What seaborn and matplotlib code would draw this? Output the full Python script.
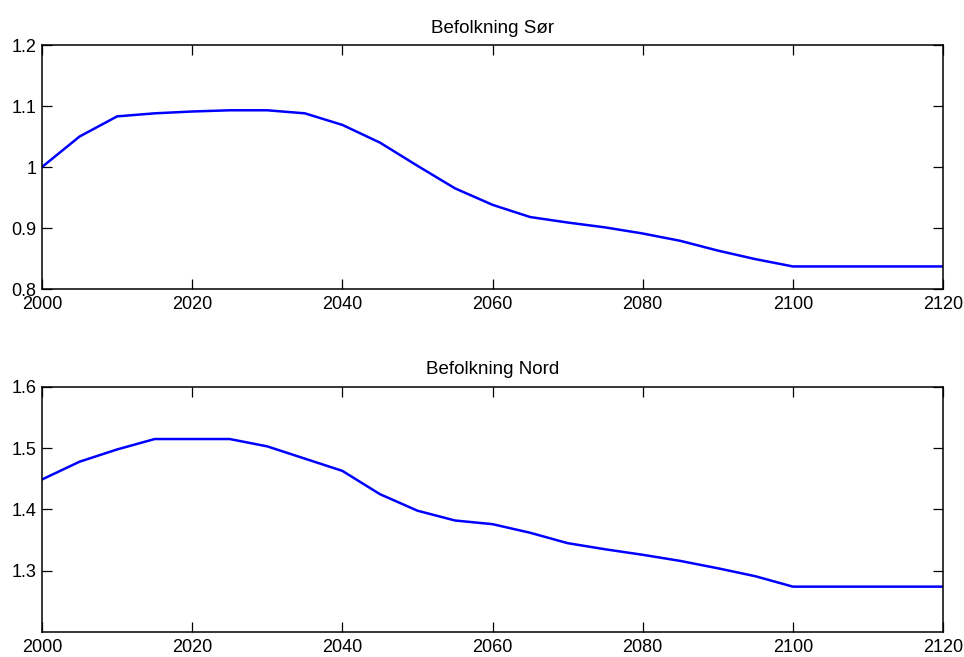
import numpy as np
import pandas as pd
import matplotlib
matplotlib.use("Agg")
import matplotlib.pyplot as plt
import seaborn as sns

sns.set_style("ticks")
plt.rcParams['font.family'] = ['Liberation Sans', 'DejaVu Sans']

## data
years = [2000, 2005, 2010, 2015, 2020, 2025, 2030, 2035, 2040, 2045, 2050, 2055, 2060,
         2065, 2070, 2075, 2080, 2085, 2090, 2095, 2100, 2105, 2110, 2115, 2120]
sor = [1.000, 1.050, 1.083, 1.088, 1.091, 1.093, 1.093, 1.088, 1.069, 1.040, 1.002, 0.965, 0.938,
       0.918, 0.909, 0.901, 0.891, 0.879, 0.863, 0.849, 0.837, 0.837, 0.837, 0.837, 0.837]
nord = [1.449, 1.478, 1.498, 1.515, 1.515, 1.515, 1.503, 1.483, 1.463, 1.425, 1.398, 1.382, 1.376,
        1.362, 1.345, 1.335, 1.326, 1.316, 1.304, 1.291, 1.274, 1.274, 1.274, 1.274, 1.274]
titles = ["Befolkning Sør", "Befolkning Nord"]
xticks = [2000, 2020, 2040, 2060, 2080, 2100, 2120]
yticks_sor = [0.8, 0.9, 1.0, 1.1, 1.2]
ylabels_sor = ["0.8", "0.9", "1", "1.1", "1.2"]
yticks_nord = [1.3, 1.4, 1.5, 1.6]
ylabels_nord = ["1.3", "1.4", "1.5", "1.6"]

df = pd.DataFrame({"year": years, "sor": sor, "nord": nord})

fig = plt.figure(figsize=(9.64, 6.57), dpi=100)
ax1 = fig.add_axes([0.0436, 0.5601, 0.9347, 0.3714])
ax2 = fig.add_axes([0.0436, 0.0381, 0.9347, 0.3729])

setup = [
    (ax1, "sor", titles[0], (0.8, 1.2), yticks_sor, ylabels_sor),
    (ax2, "nord", titles[1], (1.2, 1.6), yticks_nord, ylabels_nord),
]

for ax, col, title, ylim, yt, yl in setup:
    sns.lineplot(data=df, x="year", y=col, ax=ax, color="#0000ff", linewidth=1.8)
    ax.set_xlim(2000, 2120)
    ax.set_ylim(*ylim)
    ax.set_xticks(xticks)
    ax.set_xticklabels([str(t) for t in xticks])
    ax.set_yticks(yt)
    ax.set_yticklabels(yl)
    ax.set_xlabel("")
    ax.set_ylabel("")
    ax.set_title(title, fontsize=13.5, pad=9, color="black")
    ax.tick_params(direction="in", length=7, width=0.9, labelsize=13,
                   top=True, right=True, colors="black")
    ax.tick_params(axis="x", pad=5)
    ax.tick_params(axis="y", pad=4)
    for s in ax.spines.values():
        s.set_visible(True)
        s.set_linewidth(1.1)
        s.set_color("black")

fig.savefig("out.png", dpi=100)
